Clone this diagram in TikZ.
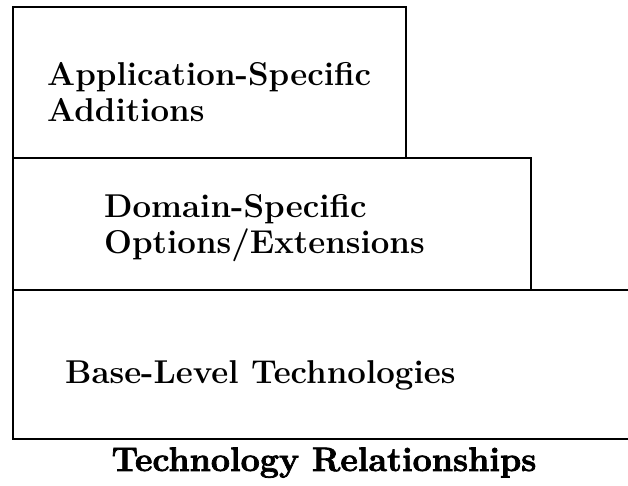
\documentclass[tikz,border=0pt]{standalone}
\newcommand{\heavytext}[1]{\special{pdf:literal 2 Tr 0.7 w}#1\special{pdf:literal 0 Tr}}
\begin{document}
\begin{tikzpicture}[x=1pt,y=1pt,
  frame/.style={line width=1.8pt, line join=miter},
  label/.style={font=\fontsize{33}{36}\selectfont\bfseries, inner sep=0pt, align=left},
  caption/.style={font=\fontsize{34}{36}\selectfont\bfseries, inner sep=0pt}]
\useasboundingbox (0,0) rectangle (628,485);
% frame corners (y measured upward: 485 - image y)
\coordinate (tl) at (13,478);
\coordinate (tr) at (406,478);
\coordinate (m1l) at (13,327);
\coordinate (m1r) at (406,327);
\coordinate (m2r) at (531,327);
\coordinate (b1l) at (13,195);
\coordinate (b1m) at (531,195);
\coordinate (b1r) at (628,195);
\coordinate (bl) at (13,46);
\coordinate (br) at (628,46);
% application-specific box
\draw[frame] (m1l) -- (tl) -- (tr) -- (m1r);
% domain-specific box
\draw[frame] (m1l) -- (m2r) -- (b1m);
% base-level box (open to the right)
\draw[frame] (b1r) -- (b1l) -- (bl) -- (br);
\draw[frame] (tl) -- (bl);
\node[label, anchor=north west] (app) at (47,423) {Application-Specific\\Additions};
\node[label, anchor=north west] (dom) at (104,291) {Domain-Specific\\Options/Extensions};
\node[label, anchor=base west] (base) at (65,102) {Base-Level Technologies};
\node[caption, anchor=base] (title) at (324,14) {\heavytext{Technology Relationships}};
\end{tikzpicture}
\end{document}
